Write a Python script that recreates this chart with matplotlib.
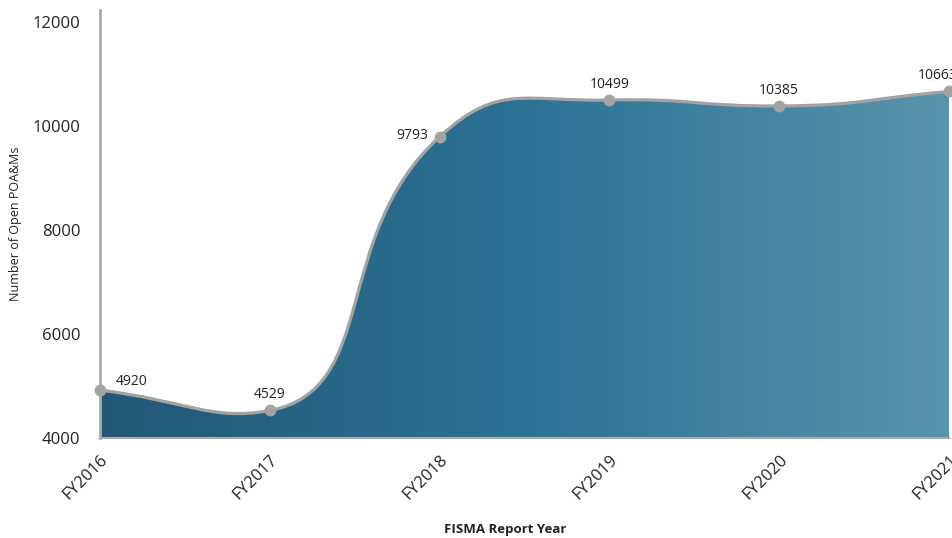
import matplotlib.pyplot as plt
import numpy as np
from matplotlib.colors import LinearSegmentedColormap
from matplotlib.path import Path
from matplotlib.patches import PathPatch

years = ['FY2016', 'FY2017', 'FY2018', 'FY2019', 'FY2020', 'FY2021']
open_poams = [4920, 4529, 9793, 10499, 10385, 10663]

plt.rcParams['font.family'] = ['Open Sans', 'DejaVu Sans']

fig = plt.figure(figsize=(9.52, 5.38), dpi=100)
ax = fig.add_axes([100 / 952, 100 / 538, 849 / 952, 428 / 538])

pos = np.arange(len(years))
ymin, ymax = 4000, 12230
ax.set_xlim(0, len(years) - 1)
ax.set_ylim(ymin, ymax)


def spline_path(x, y, tension=0.5, flat=0.25):
    # smoothing like chart.js, tangent flattened at local peaks/dips (pixel space)
    pts = ax.transData.transform(np.column_stack([x, y]))
    n = len(pts)
    ctrl = []
    for i in range(n):
        prev = pts[i - 1] if i > 0 else pts[i]
        nxt = pts[i + 1] if i < n - 1 else pts[i]
        d01 = np.hypot(*(pts[i] - prev))
        d12 = np.hypot(*(nxt - pts[i]))
        s = d01 + d12 if d01 + d12 > 0 else 1
        v = (nxt - prev).astype(float)
        if 0 < i < n - 1 and (pts[i, 1] - prev[1]) * (nxt[1] - pts[i, 1]) < 0:
            v[1] *= flat
        a = pts[i] - tension * d01 / s * v
        b = pts[i] + tension * d12 / s * v
        ctrl.append((a, b))
    verts = [pts[0]]
    codes = [Path.MOVETO]
    for i in range(n - 1):
        verts += [ctrl[i][1], ctrl[i + 1][0], pts[i + 1]]
        codes += [Path.CURVE4] * 3
    verts = ax.transData.inverted().transform(np.array(verts))
    return verts, codes


verts, codes = spline_path(pos, open_poams)
line_path = Path(verts, codes)
area_path = Path(np.vstack([verts, [[pos[-1], ymin], [pos[0], ymin], verts[0]]]),
                 codes + [Path.LINETO, Path.LINETO, Path.CLOSEPOLY])

# gradient fill under the curve
cmap = LinearSegmentedColormap.from_list('g', ['#225876', '#2c7295', '#5894ac'])
grad = np.linspace(0, 1, 256).reshape(1, -1)
img = ax.imshow(grad, cmap=cmap, aspect='auto', extent=[0, len(years) - 1, ymin, ymax], zorder=1)
img.set_clip_path(area_path, transform=ax.transData)

ax.add_patch(PathPatch(line_path, facecolor='none', edgecolor='#a3a3a3', lw=2.3,
                       zorder=3, clip_on=False))
ax.plot(pos, open_poams, 'o', color='#a3a3a3', ms=7.5, zorder=4, clip_on=False)

for i, v in enumerate(open_poams):
    if i == 0:
        ax.annotate(str(v), (i, v), xytext=(11, 1), textcoords='offset points',
                    ha='left', va='bottom', fontsize=10, color='#222222')
    elif i == 2:
        ax.annotate(str(v), (i, v), xytext=(-8, 1), textcoords='offset points',
                    ha='right', va='center', fontsize=10, color='#222222')
    elif i == len(open_poams) - 1:
        ax.annotate(str(v), (i, v), xytext=(-8, 6), textcoords='offset points',
                    ha='center', va='bottom', fontsize=10, color='#222222',
                    annotation_clip=False)
    else:
        ax.annotate(str(v), (i, v), xytext=(0, 6), textcoords='offset points',
                    ha='center', va='bottom', fontsize=10, color='#222222')

ax.set_yticks([4000, 6000, 8000, 10000, 12000])
ax.set_xticks(pos)
ax.set_xticklabels(years, rotation=45, ha='right', rotation_mode='anchor')
ax.tick_params(axis='both', length=0, labelsize=12, colors='#222222')
ax.tick_params(axis='y', pad=14)
ax.tick_params(axis='x', pad=10)

for s in ['top', 'right']:
    ax.spines[s].set_visible(False)
ax.spines['left'].set_color('#aaaaaa')
ax.spines['left'].set_linewidth(2)
ax.spines['bottom'].set_color('#aaaaaa')
ax.spines['bottom'].set_linewidth(1.5)

ax.set_ylabel('Number of Open POA&Ms', fontsize=9, color='#222222')
ax.yaxis.set_label_coords(-0.092, 0.5)
ax.set_xlabel('FISMA Report Year', fontsize=9.5, fontweight='bold', color='#222222')
ax.xaxis.set_label_coords((505 - 100) / 849, -0.198)

fig.savefig('out.png', dpi=100)
